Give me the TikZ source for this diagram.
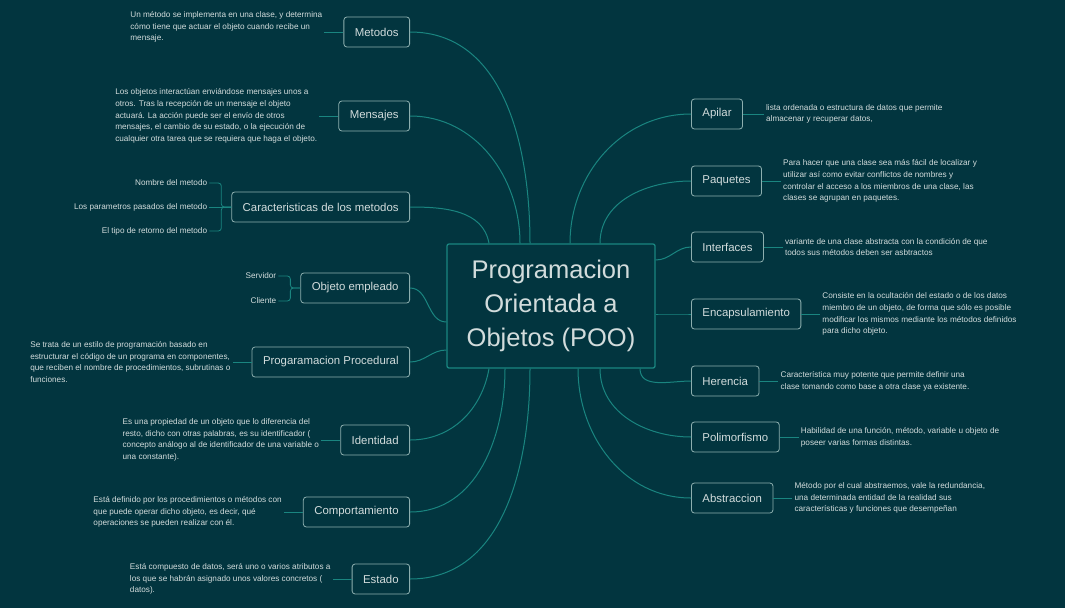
\documentclass[tikz,border=0pt]{standalone}
\usepackage{fontspec}
\setmainfont{Liberation Sans}
\usetikzlibrary{positioning}
\definecolor{bgteal}{HTML}{02353F}
\definecolor{linkteal}{HTML}{1A8580}
\definecolor{boxedge}{HTML}{8DAFAF}
\definecolor{txtgray}{HTML}{D2DCDC}
\tikzset{
  topic/.style={draw=boxedge, rounded corners=3pt, fill=bgteal, text=txtgray,
    font=\fontsize{11.4}{13}\selectfont, minimum height=30pt, inner xsep=11pt, line width=0.8pt},
  note/.style={text=txtgray, font=\fontsize{8.2}{11.7}\selectfont, align=left, inner sep=2pt},
  branch/.style={draw=linkteal, line width=1pt},
  twig/.style={draw=linkteal, line width=0.8pt},
}
\begin{document}
\begin{tikzpicture}[x=1pt, y=-1pt, node distance=19pt]
  \fill[bgteal] (0,0) rectangle (1065,608);
  \useasboundingbox (0,0) rectangle (1065,608);
  \node[draw=linkteal, line width=1.3pt, rounded corners=2pt, minimum width=208pt, minimum height=124pt,
    text=txtgray, font=\fontsize{25.5}{34}\selectfont, align=center] (root) at (551,306)
    {Programacion\\Orientada a\\Objetos (POO)};
  % left side
  \begin{scope}[every node/.style={topic, anchor=east}]
    \node (metodos) at (410,32) {Metodos};
    \node (mensajes) at (410,116) {Mensajes};
    \node (caract) at (410,207) {Caracteristicas de los metodos};
    \node (objeto) at (410,288) {Objeto empleado};
    \node (proced) at (410,362) {Progaramacion Procedural};
    \node (identidad) at (410,440) {Identidad};
    \node (comport) at (410,512) {Comportamiento};
    \node (estado) at (410,579) {Estado};
  \end{scope}
  % right side
  \begin{scope}[every node/.style={topic, anchor=west}]
    \node (apilar) at (691,114) {Apilar};
    \node (paquetes) at (691,181) {Paquetes};
    \node (interf) at (691,247) {Interfaces};
    \node (encap) at (691,314) {Encapsulamiento};
    \node (herencia) at (691,381) {Herencia};
    \node (polim) at (691,437) {Polimorfismo};
    \node (abstr) at (691,498) {Abstraccion};
  \end{scope}
  % notes
  \node[note, left=of metodos, yshift=5pt] (metodosnote)
    {Un método se implementa en una clase, y determina\\cómo tiene que actuar el objeto cuando recibe un\\mensaje.};
  \node[note, left=of mensajes] (mensajesnote)
    {Los objetos interactúan enviándose mensajes unos a\\otros. Tras la recepción de un mensaje el objeto\\actuará. La acción puede ser el envío de otros\\mensajes, el cambio de su estado, o la ejecución de\\cualquier otra tarea que se requiera que haga el objeto.};
  \node[note, left=of proced] (procednote)
    {Se trata de un estilo de programación basado en\\estructurar el código de un programa en componentes,\\que reciben el nombre de procedimientos, subrutinas o\\funciones.};
  \node[note, left=of identidad] (identidadnote)
    {Es una propiedad de un objeto que lo diferencia del\\resto, dicho con otras palabras, es su identificador (\\concepto análogo al de identificador de una variable o\\una constante).};
  \node[note, left=of comport] (comportnote)
    {Está definido por los procedimientos o métodos con\\que puede operar dicho objeto, es decir, qué\\operaciones se pueden realizar con él.};
  \node[note, left=of estado] (estadonote)
    {Está compuesto de datos, será uno o varios atributos a\\los que se habrán asignado unos valores concretos (\\datos).};
  \node[note, right=21pt of apilar] (apilarnote)
    {lista ordenada o estructura de datos que permite\\almacenar y recuperar datos,};
  \node[note, right=of paquetes] (paquetesnote)
    {Para hacer que una clase sea más fácil de localizar y\\utilizar así como evitar conflictos de nombres y\\controlar el acceso a los miembros de una clase, las\\clases se agrupan en paquetes.};
  \node[note, right=of interf] (interfnote)
    {variante de una clase abstracta con la condición de que\\todos sus métodos deben ser asbtractos};
  \node[note, right=of encap] (encapnote)
    {Consiste en la ocultación del estado o de los datos\\miembro de un objeto, de forma que sólo es posible\\modificar los mismos mediante los métodos definidos\\para dicho objeto.};
  \node[note, right=of herencia] (herencianote)
    {Característica muy potente que permite definir una\\clase tomando como base a otra clase ya existente.};
  \node[note, right=of polim] (polimnote)
    {Habilidad de una función, método, variable u objeto de\\poseer varias formas distintas.};
  \node[note, right=of abstr] (abstrnote)
    {Método por el cual abstraemos, vale la redundancia,\\una determinada entidad de la realidad sus\\características y funciones que desempeñan};
  % sub items
  \begin{scope}[every node/.style={note, align=right}]
    \node[left=22pt of caract, yshift=24pt] (nombre) {Nombre del metodo};
    \node[left=22pt of caract] (params) {Los parametros pasados del metodo};
    \node[left=22pt of caract, yshift=-24pt] (retorno) {El tipo de retorno del metodo};
    \node[left=22pt of objeto, yshift=12pt] (servidor) {Servidor};
    \node[left=22pt of objeto, yshift=-13pt] (cliente) {Cliente};
  \end{scope}
  \begin{scope}[every path/.style={twig, rounded corners=3pt}]
    \draw (caract.west) -- ++(-10,0) |- (nombre.east);
    \draw (caract.west) -- (params.east);
    \draw (caract.west) -- ++(-10,0) |- (retorno.east);
    \draw (objeto.west) -- ++(-10,0) |- (servidor.east);
    \draw (objeto.west) -- ++(-10,0) |- (cliente.east);
  \end{scope}
  % note links
  \begin{scope}[every path/.style={twig}]
    \foreach \t in {metodos, mensajes, proced, identidad, comport, estado}
      \draw (\t.west) -- (\t.west -| \t note.east);
    \foreach \t in {apilar, paquetes, interf, encap, herencia, polim, abstr}
      \draw (\t.east) -- (\t.east -| \t note.west);
  \end{scope}
  % branches from the root
  \begin{scope}[every path/.style={branch}]
    \draw ([xshift=-21pt]root.north) to[out=90, in=0] (metodos.east);
    \draw ([xshift=-31pt]root.north) to[out=90, in=0] (mensajes.east);
    \draw ([xshift=-62pt]root.north) to[out=100, in=0] (caract.east);
    \draw ([yshift=-16pt]root.west) to[out=180, in=0] (objeto.east);
    \draw ([yshift=-44pt]root.west) to[out=180, in=0] (proced.east);
    \draw ([xshift=-62pt]root.south) to[out=-100, in=0] (identidad.east);
    \draw ([xshift=-46pt]root.south) to[out=-90, in=0] (comport.east);
    \draw ([xshift=-21pt]root.south) to[out=-90, in=0] (estado.east);
    \draw ([xshift=19pt]root.north) to[out=90, in=180] (apilar.west);
    \draw ([xshift=49pt]root.north) to[out=90, in=180] (paquetes.west);
    \draw ([yshift=46pt]root.east) to[out=0, in=180] (interf.west);
    \draw ([yshift=-8pt]root.east) to[out=0, in=180] (encap.west);
    \draw ([xshift=89pt]root.south) to[out=-90, in=180] (herencia.west);
    \draw ([xshift=49pt]root.south) to[out=-90, in=180] (polim.west);
    \draw ([xshift=27pt]root.south) to[out=-90, in=180] (abstr.west);
  \end{scope}
\end{tikzpicture}
\end{document}
